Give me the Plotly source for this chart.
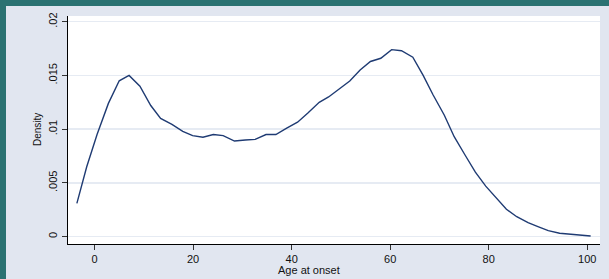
import plotly.graph_objects as go

age = [-3.6, -1.6, 0.5, 2.8, 5.0, 7.0, 9.2, 11.4, 13.4, 15.7, 17.9, 19.9, 22.0, 24.1, 26.1,
       28.4, 30.6, 32.6, 34.8, 36.8, 39.0, 41.2, 43.3, 45.6, 47.5, 49.7, 51.8, 53.9, 56.0,
       58.1, 60.3, 62.3, 64.6, 66.7, 68.7, 71.0, 73.0, 75.2, 77.3, 79.4, 81.5, 83.6, 85.7,
       88.0, 90.0, 92.1, 94.4, 96.4, 98.5, 100.7]
density = [0.0031, 0.0065, 0.0095, 0.0124, 0.0145, 0.0150, 0.0140, 0.0122, 0.0110, 0.01045,
           0.0098, 0.0094, 0.00925, 0.0095, 0.0094, 0.0089, 0.0090, 0.00905, 0.0095, 0.0095,
           0.0101, 0.01065, 0.0115, 0.0125, 0.0130, 0.0138, 0.01448, 0.0155, 0.0163, 0.0166,
           0.0174, 0.0173, 0.0167, 0.0150, 0.0132, 0.0113, 0.0093, 0.0076, 0.0060, 0.0047,
           0.0036, 0.00255, 0.00186, 0.0013, 0.00093, 0.00056, 0.00032, 0.00022, 0.00013, 0.00006]

x_ticks = [0, 20, 40, 60, 80, 100]
y_ticks = [0, 0.005, 0.01, 0.015, 0.02]
y_ticktext = ["0", ".005", ".01", ".015", ".02"]

W, H = 609, 279
L, R, T, B = 68, 9, 16, 35
pw, ph = W - L - R, H - T - B


def px_x(p):
    return (p - L) / pw


def px_y(p):
    return (T + ph - p) / ph


fig = go.Figure()
fig.add_trace(go.Scatter(x=age, y=density, mode="lines",
                         line=dict(color="#1f3b73", width=1.4), showlegend=False,
                         hoverinfo="skip"))

fam = "Liberation Sans, Arial, sans-serif"
font = dict(family=fam, size=11, color="#111111")

fig.update_layout(
    width=W, height=H,
    margin=dict(l=L, r=R, t=T, b=B, pad=0, autoexpand=False),
    paper_bgcolor="#2b7272",
    plot_bgcolor="white",
    font=font,
    shapes=[
        dict(type="rect", xref="paper", yref="paper", layer="below",
             x0=px_x(6), x1=px_x(W + 5), y0=px_y(H + 5), y1=px_y(6),
             fillcolor="#e1e6f0", line=dict(width=0)),
        dict(type="rect", xref="paper", yref="paper", layer="below",
             x0=0, x1=1, y0=0, y1=1, fillcolor="white", line=dict(width=0)),
    ],
    annotations=[
        dict(text="Age at onset", xref="paper", yref="paper", x=px_x(309), y=px_y(270),
             xanchor="center", yanchor="middle", showarrow=False, font=font),
        dict(text="Density", xref="paper", yref="paper", x=px_x(37), y=px_y(130),
             xanchor="center", yanchor="middle", showarrow=False, textangle=-90,
             font=dict(family=fam, size=10, color="#111111")),
    ],
    xaxis=dict(range=[-5.4, 102.6], tickvals=x_ticks, ticks="outside", ticklen=5,
               tickcolor="#333333", showline=True, linecolor="black", linewidth=1.2,
               showgrid=False, zeroline=False, tickfont=font, automargin=False),
    yaxis=dict(range=[-0.00068, 0.02053], tickvals=y_ticks, ticktext=y_ticktext,
               tickangle=270, ticks="outside", ticklen=5, tickcolor="#333333",
               showline=True, linecolor="black", linewidth=1.2,
               showgrid=True, gridcolor="#e6ebf3", gridwidth=1.5, zeroline=False,
               tickfont=font, automargin=False),
)

fig.write_html("out.html", config={"displayModeBar": False, "staticPlot": True},
               post_script="document.body.style.margin='0';document.body.style.background='#2b7272';")
